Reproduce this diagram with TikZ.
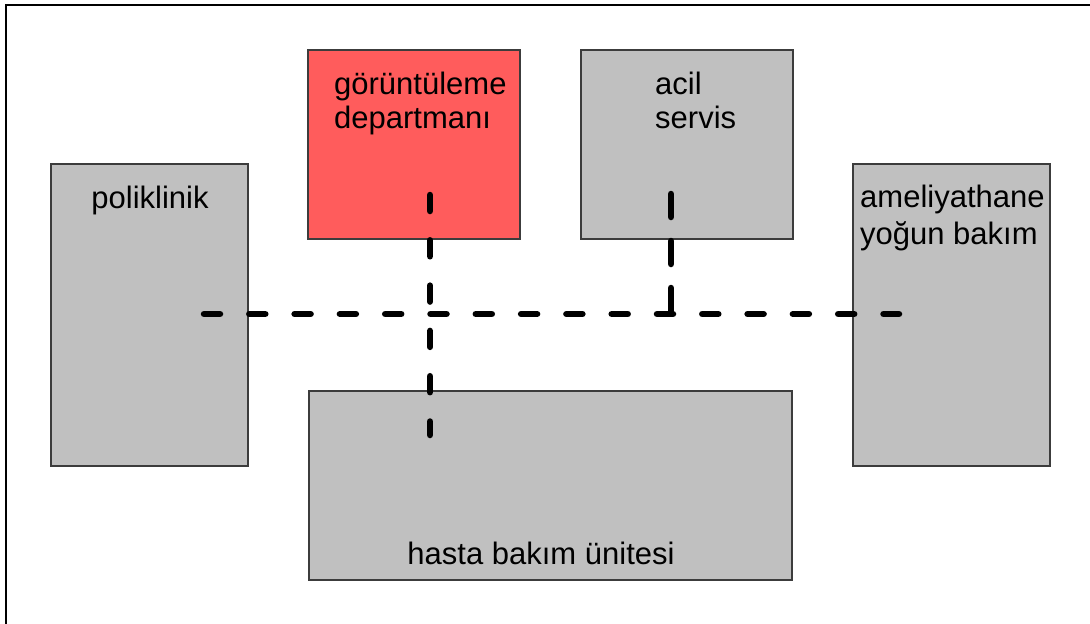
\documentclass[tikz,border=0pt]{standalone}
\usepackage{fontspec}
\setmainfont{Liberation Sans}
\definecolor{roomgray}{RGB}{192,192,192}
\definecolor{roomred}{RGB}{255,92,92}
\definecolor{roomedge}{RGB}{60,60,60}
\begin{document}
\begin{tikzpicture}[x=1pt,y=-1pt,
  room/.style={draw=roomedge, line width=1.2pt, inner sep=0pt, outer sep=0pt},
  label/.style={inner sep=0pt, anchor=base west, font=\fontsize{31}{34}\selectfont},
  corridor/.style={line width=6.5pt, line cap=round, dash pattern=on 16pt off 29.3pt},
  frameline/.style={line width=2.5pt, black}]
\useasboundingbox (0,0) rectangle (1090,624);

% outer frame (only top and left edges fall inside the page)
\draw[frameline] (6,630) -- (6,5) -- (1095,5);

% rooms
\node[room, fill=roomgray, minimum width=197pt, minimum height=302pt] (poli) at (149.5,315) {};
\node[room, fill=roomred,  minimum width=212pt, minimum height=189pt] (imaging) at (414,144.5) {};
\node[room, fill=roomgray, minimum width=212pt, minimum height=189pt] (er) at (687,144.5) {};
\node[room, fill=roomgray, minimum width=197pt, minimum height=302pt] (surgery) at (951.5,315) {};
\node[room, fill=roomgray, minimum width=483pt, minimum height=189pt] (ward) at (550.5,485.5) {};

% room names
\node[label, anchor=base] (poliT) at (150,208) {poliklinik};
\node[label] (imagingA) at (334,94) {görüntüleme};
\node[label] (imagingB) at (334,128) {departmanı};
\node[label] (erA) at (655,94) {acil};
\node[label] (erB) at (655,128) {servis};
\node[label] (surgeryA) at (860,207) {ameliyathane};
\node[label] (surgeryB) at (860,244) {yoğun bakım};
\node[label, anchor=base] (wardT) at (541,564) {hasta bakım ünitesi};

% corridor end points
\coordinate (hW) at (204,314);
\coordinate (hE) at (899,314);
\coordinate (vN) at (430,195);
\coordinate (vS) at (430,435);
\coordinate (erN) at (671,194);
\coordinate (erS) at (671,315);

% corridors
\draw[corridor] (hW) -- (hE);
\draw[corridor] (vN) -- (vS);
\draw[corridor, dash pattern=on 23pt off 24pt] (erN) -- (erS);
\end{tikzpicture}
\end{document}
